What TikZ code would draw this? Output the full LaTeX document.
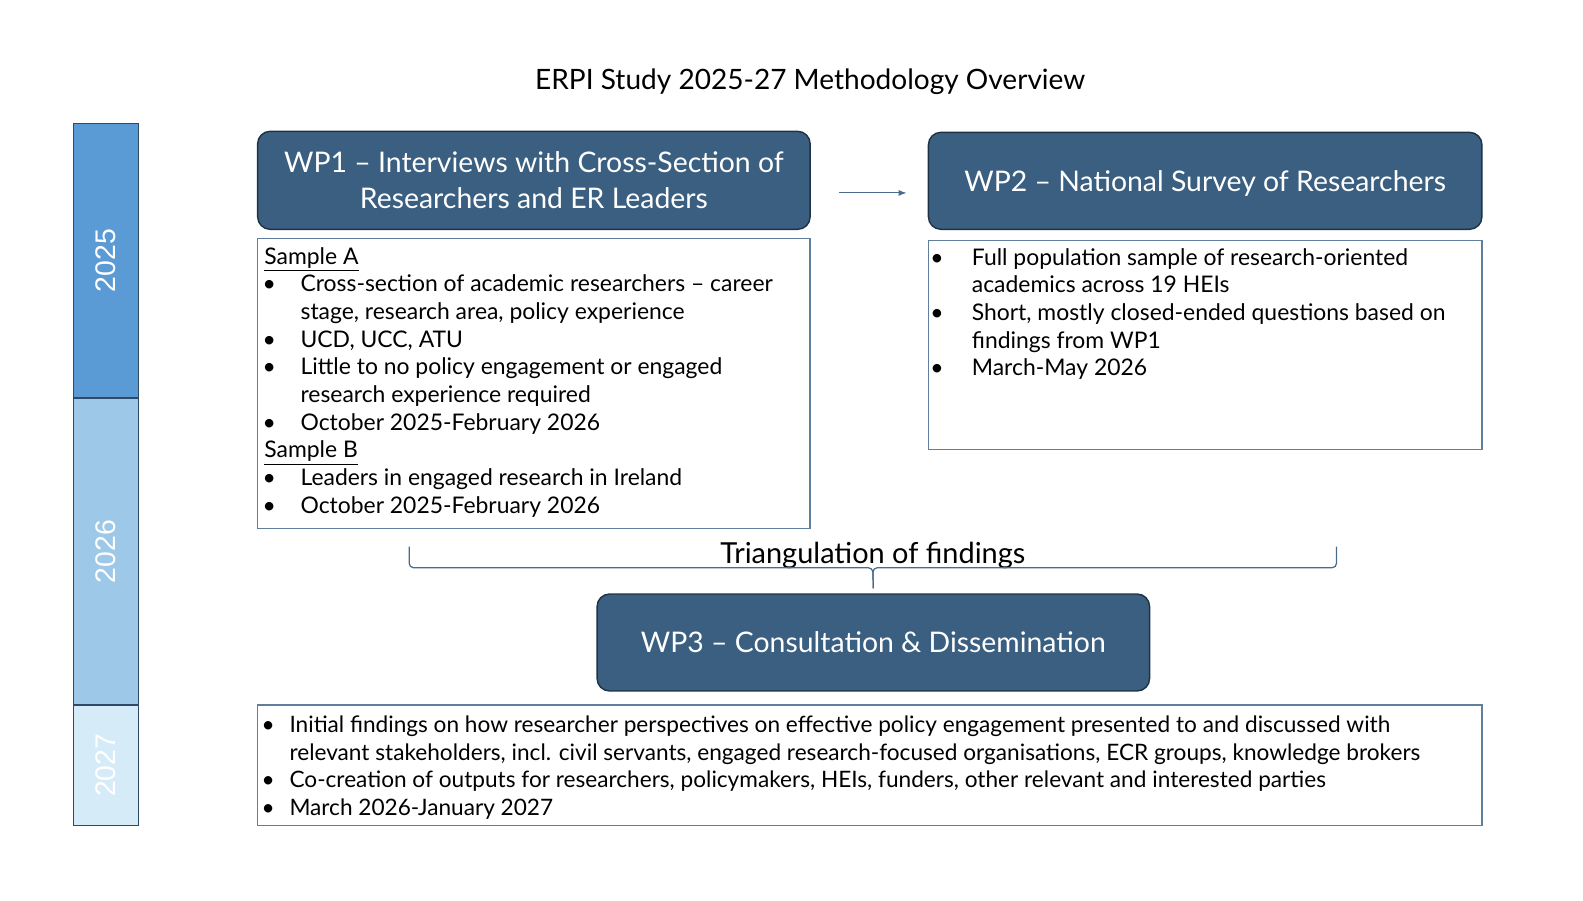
\documentclass[tikz,border=0pt]{standalone}
\usepackage{fontspec}
\setmainfont{Lato}
\newfontfamily\yearfont{Liberation Sans}
\usetikzlibrary{positioning,calc,arrows.meta}
\definecolor{wpblue}{HTML}{3A5F80}
\definecolor{wpedge}{HTML}{1E3246}
\definecolor{listedge}{HTML}{5F7F9F}
\definecolor{lineblue}{HTML}{4A6C8C}
\definecolor{yrA}{HTML}{5B9BD5}
\definecolor{yrB}{HTML}{9DC8E8}
\definecolor{yrC}{HTML}{D6EBF8}
\definecolor{yredge}{HTML}{2F4A66}
\tikzset{>=Latex}
\tikzstyle{arw}=[-{Latex[length=1.6mm,width=1.2mm]}, draw=lineblue, line width=0.6pt]
\tikzstyle{wphead}=[draw=wpedge, fill=wpblue, rounded corners=7pt, line width=0.8pt, text=white, align=center, font=\fontsize{16}{20.2}\selectfont]
\tikzstyle{listbox}=[draw=listedge, line width=0.8pt, inner sep=0pt]
\tikzstyle{listtxt}=[anchor=north west, inner sep=0pt, align=left, font=\fontsize{12.9}{15.6}\selectfont]
\tikzstyle{yearbox}=[draw=yredge, line width=0.8pt, rotate=90, minimum height=1.28cm, text=white, font=\yearfont\fontsize{16}{19}\selectfont]
\newcommand{\itm}{\makebox[20.4pt][l]{\hspace{-1pt}\textbullet}}
\newcommand{\itmw}{\makebox[14.7pt][l]{\hspace{-1pt}\textbullet}}
\begin{document}%
\begin{tikzpicture}[x=0.02cm,y=-0.02cm]
    \useasboundingbox (0,0) rectangle (1567,891);

    % title
    \node[font=\fontsize{15.8}{19}\selectfont] (title) at (802,81) {ERPI Study 2025-27 Methodology Overview};

    % years down the side
    \node[yearbox, fill=yrA, minimum width=5.44cm] (y2025) at (105,258) {2025};
    \node[yearbox, fill=yrB, minimum width=6.08cm] (y2026) at (105,546) {2026};
    \node[yearbox, fill=yrC, minimum width=2.38cm] (y2027) at (105,757.5) {2027};

    % work packages
    \node[wphead, minimum width=10.94cm, minimum height=1.94cm] (wp1) at (528.5,178.5) {WP1 – Interviews with Cross-Section of\\Researchers and ER Leaders};
    \node[wphead, minimum width=10.96cm, minimum height=1.92cm, text depth=0pt] (wp2) at (1193,179) {WP2 – National Survey of Researchers};
    \node[wphead, minimum width=10.94cm, minimum height=1.92cm] (wp3) at (864.5,636) {WP3 – Consultation \& Dissemination};

    % boxes under them
    \node[listbox, minimum width=10.94cm, minimum height=5.74cm] (wp1box) at (528.5,379.5) {};
    \node[listbox, minimum width=10.96cm, minimum height=4.14cm] (wp2box) at (1193,341.5) {};
    \node[listbox, minimum width=24.24cm, minimum height=2.38cm] (wp3box) at (861,757.5) {};

    \node[listtxt] (wp1list) at ($(wp1box.north west)+(7,9)$) {%
        \underline{Sample A}\\
        \itm Cross-section of academic researchers – career\\
        \hphantom{\itm}stage, research area, policy experience\\
        \itm UCD, UCC, ATU\\
        \itm Little to no policy engagement or engaged\\
        \hphantom{\itm}research experience required\\
        \itm October 2025-February 2026\\
        \underline{Sample B}\\
        \itm Leaders in engaged research in Ireland\\
        \itm October 2025-February 2026};
    \node[listtxt] (wp2list) at ($(wp2box.north west)+(4,8)$) {%
        \itm\hspace{2pt}Full population sample of research-oriented\\
        \hphantom{\itm}\hspace{2pt}academics across 19 HEIs\\
        \itm\hspace{2pt}Short, mostly closed-ended questions based on\\
        \hphantom{\itm}\hspace{2pt}findings from WP1\\
        \itm\hspace{2pt}March-May 2026};
    \node[listtxt, font=\fontsize{12.75}{15.6}\selectfont] (wp3list) at ($(wp3box.north west)+(6,11)$) {%
        \itmw Initial findings on how researcher perspectives on effective policy engagement presented to and discussed with\\
        \hphantom{\itmw}relevant stakeholders, incl. civil servants, engaged research-focused organisations, ECR groups, knowledge brokers\\
        \itmw Co-creation of outputs for researchers, policymakers, HEIs, funders, other relevant and interested parties\\
        \itmw March 2026-January 2027};

    % wp1 feeds wp2
    \coordinate (a1) at ($(wp1.east)+(28,12.5)$);
    \draw[arw, shorten >=11.9pt] (a1) -- (a1 -| wp2.west);

    % triangulation bracket
    \node[font=\fontsize{16.3}{19}\selectfont] (tri) at (864,550) {Triangulation of findings};
    \coordinate (tip) at ($(wp3.north)+(0,-5)$);
    \coordinate (mid) at (864,562);
    \draw[lineblue, line width=0.7pt, rounded corners=2.5pt]
        (405,541) -- (405,562) -- (mid) -- (tip);
    \draw[lineblue, line width=0.7pt, rounded corners=2.5pt]
        (1323,541) -- (1323,562) -- (mid) -- (tip);
\end{tikzpicture}%
\end{document}
